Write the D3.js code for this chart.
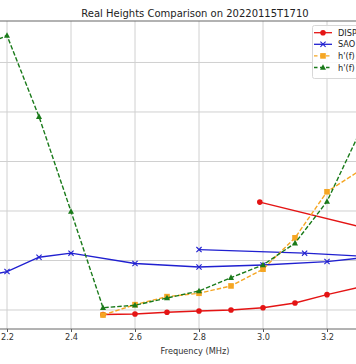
<!DOCTYPE html>
<html><head><meta charset="utf-8">
<script src="https://cdn.jsdelivr.net/npm/d3@7/dist/d3.min.js"></script>
<style>body{margin:0;background:#fff;overflow:hidden}svg{display:block}</style>
</head><body>
<script>
const title = "Real Heights Comparison on 20220115T1710";
const xLabel = "Frequency (MHz)";
const xGrid = [2.0, 2.2, 2.4, 2.6, 2.8, 3.0, 3.2, 3.4];
const xTickLabels = [2.2, 2.4, 2.6, 2.8, 3.0, 3.2];
const yGrid = [100, 150, 200, 250, 300, 350];

const dispFreq = [2.5, 2.6, 2.7, 2.8, 2.9, 3.0, 3.1, 3.2, 3.3, 3.4, 3.4, 2.99];
const dispH    = [95.4, 96, 97.7, 99, 100, 102.3, 107.1, 115.5, 123, 135, 176.3, 209];

const saoFreq = [2.1, 2.2, 2.3, 2.4, 2.6, 2.8, 3.0, 3.2, 3.4, 3.4, 3.13, 2.8];
const saoH    = [132.4, 138.8, 153.3, 157.4, 146.9, 143.5, 145.5, 148.9, 155.6, 152.8, 157.4, 161];

const hfOFreq = [2.5, 2.6, 2.7, 2.8, 2.9, 3.0, 3.1, 3.2, 3.3];
const hfOH    = [94.9, 105.4, 113.5, 116.9, 124.3, 141.2, 172.9, 219.4, 240.3];

const hfXFreq = [2.1, 2.2, 2.3, 2.4, 2.5, 2.6, 2.7, 2.8, 2.9, 3.0, 3.1, 3.2, 3.3];
const hfXH    = [363, 377.3, 295.3, 199.5, 102.3, 104.8, 112.1, 119.2, 132.7, 145.5, 167.5, 209.6, 278];

const legendLabels = ["DISP", "SAO", "h'(f)", "h'(f)"];

const W = 356, H = 364;
const plot = {left: -61, right: 451, top: 21, bottom: 329};
const svg = d3.select("body").append("svg").attr("width", W).attr("height", H)
  .style("font-family", "'DejaVu Sans', sans-serif");

const x = d3.scaleLinear().domain([1.9875, 3.5875]).range([plot.left, plot.right]);
const y = d3.scaleLinear().domain([80.8, 391.9]).range([plot.bottom, plot.top]);

// grid
const grid = svg.append("g");
grid.selectAll("line.vx").data(xGrid).join("line")
  .attr("x1", d => x(d)).attr("x2", d => x(d)).attr("y1", plot.top).attr("y2", plot.bottom)
  .attr("stroke", "#d0d0d0").attr("stroke-width", 1);
grid.selectAll("line.hy").data(yGrid).join("line")
  .attr("y1", d => y(d)).attr("y2", d => y(d)).attr("x1", plot.left).attr("x2", plot.right)
  .attr("stroke", "#d0d0d0").attr("stroke-width", 1);

// x axis
const xAxis = d3.axisBottom(x).tickValues(xTickLabels).tickFormat(d3.format(".1f")).tickSize(3).tickPadding(2);
const gx = svg.append("g").attr("transform", `translate(0,${plot.bottom})`).call(xAxis);
gx.select(".domain").remove();
gx.selectAll(".tick line").attr("stroke", "#555");
gx.selectAll("text").attr("font-size", "8.2px").attr("fill", "#333").attr("font-family", "'DejaVu Sans', sans-serif");

// frame
svg.append("rect").attr("x", plot.left).attr("y", plot.top)
  .attr("width", plot.right - plot.left).attr("height", plot.bottom - plot.top)
  .attr("fill", "none").attr("stroke", "#666").attr("stroke-width", 1);

const line = d3.line().x(d => x(d[0])).y(d => y(d[1]));
svg.append("clipPath").attr("id", "c").append("rect")
  .attr("x", plot.left).attr("y", plot.top).attr("width", plot.right - plot.left).attr("height", plot.bottom - plot.top);
const gData = svg.append("g").attr("clip-path", "url(#c)");

const series = [
  {f: dispFreq, h: dispH, color: "#e41414", dash: null, marker: "circle"},
  {f: saoFreq, h: saoH, color: "#2020d0", dash: null, marker: "x"},
  {f: hfOFreq, h: hfOH, color: "#f5a623", dash: "4.5,2", marker: "square"},
  {f: hfXFreq, h: hfXH, color: "#1a7a1a", dash: "4.5,2", marker: "triangle"}
];

function drawMarker(g, type, cx, cy, color) {
  if (type === "circle") {
    g.append("circle").attr("cx", cx).attr("cy", cy).attr("r", 2.8).attr("fill", color);
  } else if (type === "square") {
    g.append("rect").attr("x", cx - 2.8).attr("y", cy - 2.8).attr("width", 5.6).attr("height", 5.6).attr("fill", color);
  } else if (type === "triangle") {
    g.append("path").attr("d", `M${cx},${cy - 3.3}L${cx + 3},${cy + 2.3}L${cx - 3},${cy + 2.3}Z`).attr("fill", color);
  } else if (type === "x") {
    g.append("path").attr("d", `M${cx - 2.6},${cy - 2.6}L${cx + 2.6},${cy + 2.6}M${cx - 2.6},${cy + 2.6}L${cx + 2.6},${cy - 2.6}`)
      .attr("stroke", color).attr("stroke-width", 1.1).attr("fill", "none");
  }
}

series.forEach(s => {
  const pts = s.f.map((f, i) => [f, s.h[i]]);
  const p = gData.append("path").attr("d", line(pts)).attr("fill", "none")
    .attr("stroke", s.color).attr("stroke-width", 1.4);
  if (s.dash) p.attr("stroke-dasharray", s.dash);
  pts.forEach(d => drawMarker(gData, s.marker, x(d[0]), y(d[1]), s.color));
});

// title & label
svg.append("text").attr("x", (plot.left + plot.right) / 2).attr("y", 16.5)
  .attr("text-anchor", "middle").attr("font-size", "10px").attr("fill", "#222").text(title);
svg.append("text").attr("x", (plot.left + plot.right) / 2).attr("y", 353.5)
  .attr("text-anchor", "middle").attr("font-size", "8.2px").attr("fill", "#333").text(xLabel);

// legend
const lg = svg.append("g");
lg.append("rect").attr("x", 312.5).attr("y", 25.5).attr("width", 90).attr("height", 53)
  .attr("rx", 2).attr("fill", "#fff").attr("fill-opacity", 0.85).attr("stroke", "#d8d8d8");
series.forEach((s, i) => {
  const cy = 32.7 + i * 11.6;
  const l = lg.append("line").attr("x1", 314).attr("x2", 332).attr("y1", cy).attr("y2", cy)
    .attr("stroke", s.color).attr("stroke-width", 1.3);
  if (s.dash) l.attr("stroke-dasharray", "3.5,2.5");
  drawMarker(lg, s.marker, 323, cy, s.color);
  lg.append("text").attr("x", 338).attr("y", cy + 3).attr("font-size", "8.2px").attr("fill", "#222").text(legendLabels[i]);
});
</script>
</body></html>
